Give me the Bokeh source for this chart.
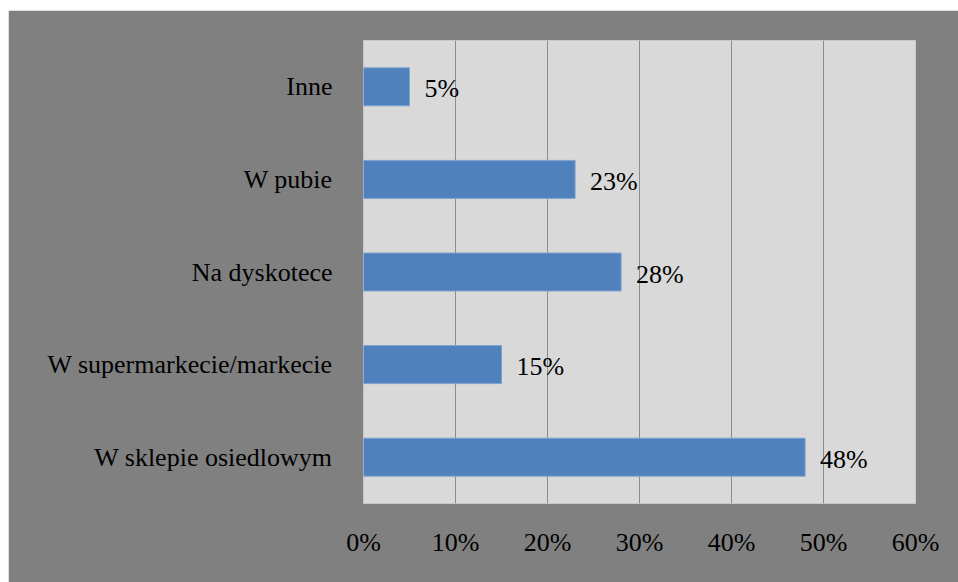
from bokeh.plotting import figure
from bokeh.layouts import row, column
from bokeh.models import ColumnDataSource, LabelSet, NumeralTickFormatter, FixedTicker, Range1d, Spacer
from bokeh.embed import file_html
from bokeh.resources import INLINE

categories = ["W sklepie osiedlowym", "W supermarkecie/markecie", "Na dyskotece", "W pubie", "Inne"]
values = [0.48, 0.15, 0.28, 0.23, 0.05]
value_labels = ["48%", "15%", "28%", "23%", "5%"]
x_ticks = [0, 0.1, 0.2, 0.3, 0.4, 0.5, 0.6]

FONT = "Liberation Serif"

src = ColumnDataSource(dict(cat=categories, val=values, lab=value_labels))

p = figure(y_range=categories, x_range=Range1d(0, 0.6), width=950, height=572,
           output_backend="svg", toolbar_location=None,
           min_border_left=355, min_border_right=43, min_border_top=30, min_border_bottom=79)

p.background_fill_color = "#d9d9d9"
p.border_fill_color = "#808080"
p.outline_line_color = "#c8c8c8"

p.hbar(y="cat", right="val", left=0, height=0.41, source=src,
       fill_color="#4f81bd", line_color="#7fa3cf", line_width=1)

labels = LabelSet(x="val", y="cat", text="lab", source=src, x_offset=15, y_offset=-2,
                  text_baseline="middle", text_align="left",
                  text_font=FONT, text_font_size="26px", text_color="#000000")
p.add_layout(labels)

p.xaxis.ticker = FixedTicker(ticks=x_ticks)
p.xaxis.formatter = NumeralTickFormatter(format="0%")
for ax in (p.xaxis[0], p.yaxis[0]):
    ax.axis_line_color = None
    ax.major_tick_line_color = None
    ax.minor_tick_line_color = None
    ax.major_label_text_font = FONT
    ax.major_label_text_color = "#000000"
p.xaxis.major_label_text_font_size = "26px"
p.yaxis.major_label_text_font_size = "26px"
p.xaxis.major_label_standoff = 18
p.yaxis.major_label_standoff = 25

p.xgrid.grid_line_color = "#8c8c8c"
p.xgrid.grid_line_width = 1
p.ygrid.grid_line_color = None

layout = row(Spacer(width=8, height=10), column(Spacer(width=10, height=10), p, spacing=0), spacing=0)

open("out.html", "w").write(file_html(layout, INLINE))
